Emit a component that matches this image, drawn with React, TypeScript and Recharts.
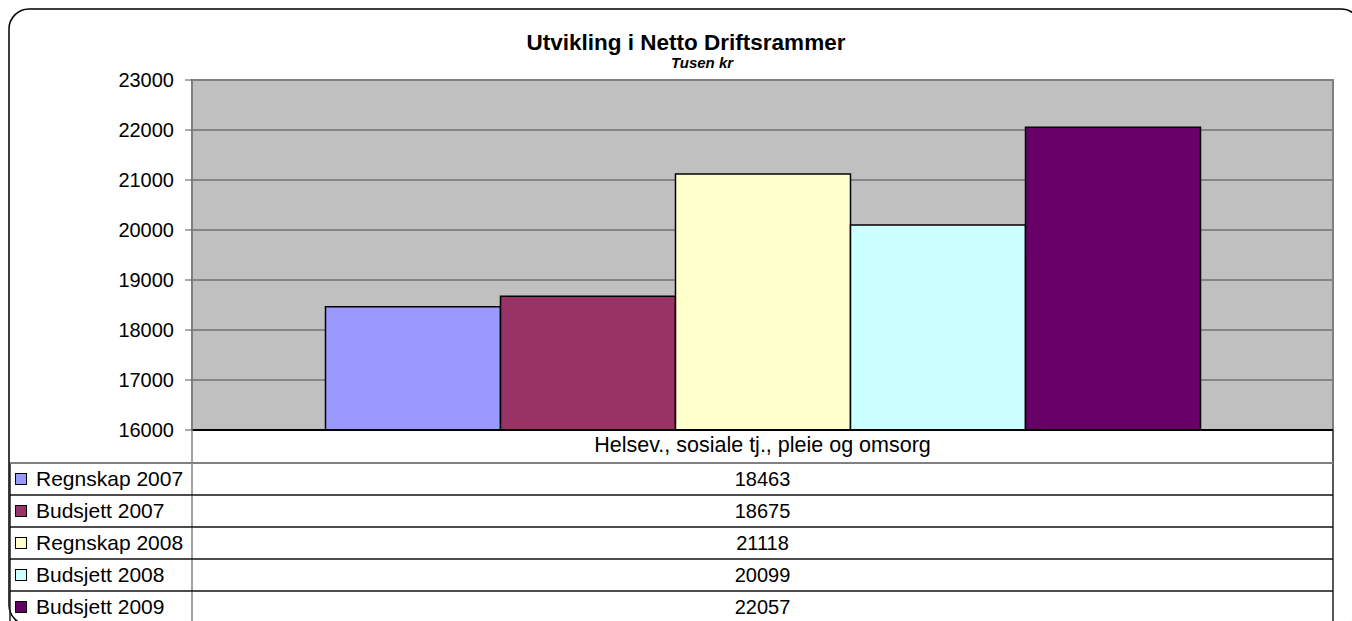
import React from 'react';
import { BarChart, Bar, XAxis, YAxis, CartesianGrid, ReferenceArea } from 'recharts';

const categories = ['Helsev., sosiale tj., pleie og omsorg'];
const seriesNames = ['Regnskap 2007', 'Budsjett 2007', 'Regnskap 2008', 'Budsjett 2008', 'Budsjett 2009'];
const seriesValues = [[18463], [18675], [21118], [20099], [22057]];
const yTicks = [16000, 17000, 18000, 19000, 20000, 21000, 22000, 23000];

const COLORS = ['#9999FF', '#993366', '#FFFFCC', '#CCFFFF', '#660066'];
const FONT = '"Liberation Sans", Arial, sans-serif';

const W = 1352;
const H = 621;
const PLOT_LEFT = 192;
const PLOT_RIGHT = 1333;
const PLOT_TOP = 80;
const PLOT_BOTTOM = 430;
const ROW_H = 32;
const TABLE_LEFT = 10;
const HEADER_BOTTOM = 463;
const Y_AXIS_W = 80;
const X_AXIS_H = 30;

const data = categories.map((name, ci) => {
  const row: Record<string, string | number> = { name };
  seriesNames.forEach((_, si) => {
    row[`s${si}`] = seriesValues[si][ci];
  });
  return row;
});

function DataTable() {
  const rowsBottom = HEADER_BOTTOM + seriesNames.length * ROW_H;
  const midX = (PLOT_LEFT + PLOT_RIGHT) / 2;
  return (
    <svg
      width={W}
      height={H}
      style={{ position: 'absolute', left: 0, top: 0, pointerEvents: 'none' }}
    >
      {/* outer rounded frame */}
      <rect x={9} y={9} width={1352} height={616} rx={20} ry={20} fill="none" stroke="#000" strokeWidth={1.5} />

      <text x={686} y={50} textAnchor="middle" fontFamily={FONT} fontSize={22.5} fontWeight="bold" fill="#000">
        Utvikling i Netto Driftsrammer
      </text>
      <text x={702} y={68} textAnchor="middle" fontFamily={FONT} fontSize={15} fontWeight="bold" fontStyle="italic" fill="#000">
        Tusen kr
      </text>

      {/* table grid */}
      <line x1={PLOT_LEFT} y1={PLOT_BOTTOM} x2={PLOT_LEFT} y2={H} stroke="#808080" strokeWidth={1.5} />
      <line x1={PLOT_RIGHT} y1={PLOT_BOTTOM} x2={PLOT_RIGHT} y2={H} stroke="#222" strokeWidth={1.5} />
      <line x1={TABLE_LEFT} y1={HEADER_BOTTOM} x2={TABLE_LEFT} y2={H} stroke="#222" strokeWidth={1.5} />
      <line x1={TABLE_LEFT} y1={HEADER_BOTTOM} x2={PLOT_RIGHT} y2={HEADER_BOTTOM} stroke="#808080" strokeWidth={2} />
      {seriesNames.map((_, i) =>
        i === 0 ? null : (
          <line
            key={`l${i}`}
            x1={TABLE_LEFT}
            y1={HEADER_BOTTOM + i * ROW_H}
            x2={PLOT_RIGHT}
            y2={HEADER_BOTTOM + i * ROW_H}
            stroke="#111"
            strokeWidth={1.5}
          />
        )
      )}
      {rowsBottom < H ? (
        <line x1={TABLE_LEFT} y1={rowsBottom} x2={PLOT_RIGHT} y2={rowsBottom} stroke="#111" strokeWidth={1.5} />
      ) : null}

      {seriesNames.map((name, i) => {
        const cy = HEADER_BOTTOM + i * ROW_H + ROW_H / 2;
        return (
          <g key={name}>
            <rect x={15.5} y={cy - 5.5} width={11} height={11} fill={COLORS[i]} stroke="#000" strokeWidth={1} />
            <text x={36} y={cy + 7} fontFamily={FONT} fontSize={21} fill="#000">
              {name}
            </text>
            {categories.map((c, ci) => (
              <text key={c} x={midX} y={cy + 7} textAnchor="middle" fontFamily={FONT} fontSize={20} fill="#000">
                {seriesValues[i][ci]}
              </text>
            ))}
          </g>
        );
      })}
    </svg>
  );
}

export default function App() {
  return (
    <div style={{ position: 'absolute', left: 0, top: 0, width: W, height: H, background: '#fff', overflow: 'hidden' }}>
      <BarChart
        width={W}
        height={H}
        data={data}
        margin={{
          top: PLOT_TOP,
          right: W - PLOT_RIGHT,
          bottom: H - PLOT_BOTTOM - X_AXIS_H,
          left: PLOT_LEFT - Y_AXIS_W,
        }}
        barCategoryGap="11.7%"
        barGap={0}
      >
        <CartesianGrid vertical={false} fill="#C0C0C0" stroke="#4a4a4a" strokeWidth={1.2} />
        <ReferenceArea y1={16000} y2={23000} fill="none" stroke="#808080" strokeWidth={2} />
        <XAxis
          dataKey="name"
          height={X_AXIS_H}
          axisLine={{ stroke: '#000', strokeWidth: 2 }}
          tickLine={false}
          tickSize={0}
          tickMargin={7}
          tick={{ fontFamily: FONT, fontSize: 21.5, fill: '#000' }}
        />
        <YAxis
          width={Y_AXIS_W}
          domain={[16000, 23000]}
          ticks={yTicks}
          allowDataOverflow
          axisLine={{ stroke: '#808080', strokeWidth: 1.5 }}
          tickLine={{ stroke: '#555' }}
          tickSize={7}
          tickMargin={11}
          tick={{ fontFamily: FONT, fontSize: 20, fill: '#000' }}
        />
        {seriesNames.map((name, i) => (
          <Bar key={name} dataKey={`s${i}`} name={name} fill={COLORS[i]} stroke="#000" strokeWidth={1.5} isAnimationActive={false} />
        ))}
      </BarChart>
      <DataTable />
    </div>
  );
}
